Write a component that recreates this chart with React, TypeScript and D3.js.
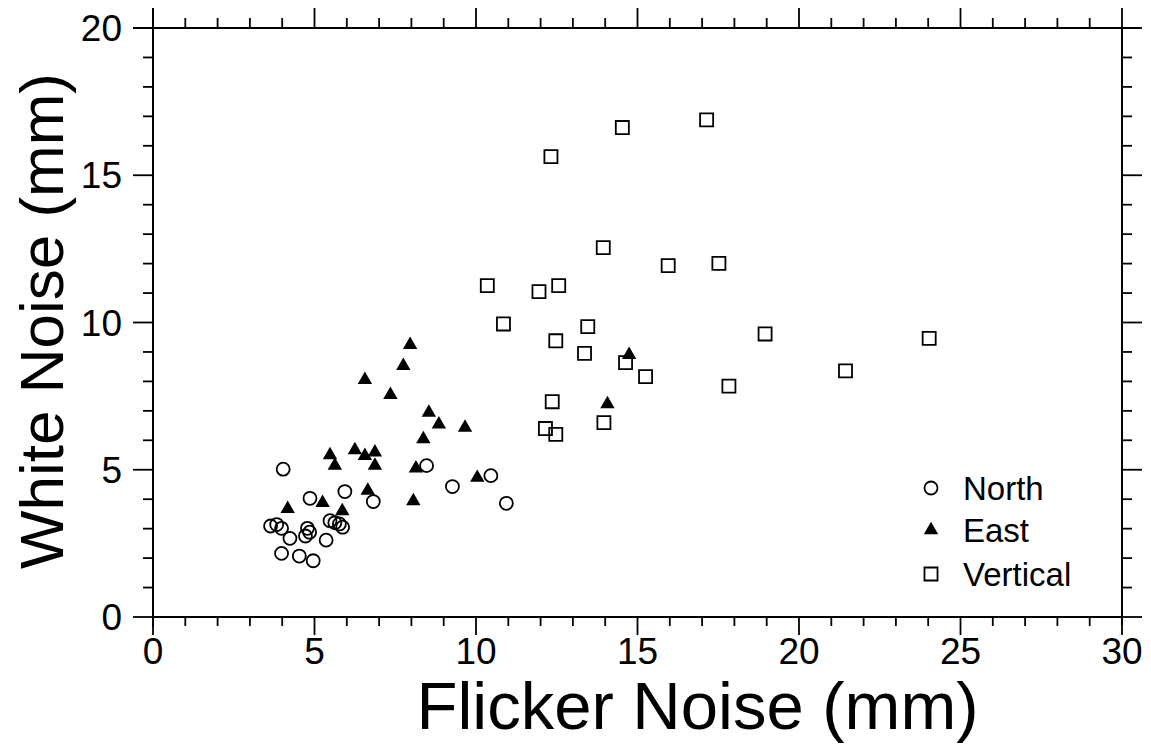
import React from "react";
import * as d3 from "d3";

const northX = [4.03, 4.86, 5.94, 6.82, 3.64, 3.83, 3.98, 4.24, 4.78, 4.85, 4.72, 5.36, 5.48, 5.63, 5.77, 5.87, 3.98, 4.53, 4.96, 8.47, 10.46, 9.27, 10.94];
const northY = [5.02, 4.03, 4.26, 3.92, 3.09, 3.14, 3.01, 2.67, 3.01, 2.88, 2.75, 2.61, 3.27, 3.2, 3.16, 3.05, 2.16, 2.07, 1.91, 5.14, 4.8, 4.43, 3.86];

const eastX = [7.96, 7.75, 6.56, 7.35, 8.54, 8.85, 9.66, 8.37, 5.48, 5.63, 6.25, 6.56, 6.87, 6.87, 8.14, 10.04, 6.65, 8.06, 5.25, 5.86, 4.17, 14.74, 14.07];
const eastY = [9.24, 8.53, 8.05, 7.54, 6.94, 6.54, 6.43, 6.04, 5.5, 5.14, 5.67, 5.47, 5.59, 5.14, 5.05, 4.73, 4.29, 3.94, 3.88, 3.6, 3.67, 8.9, 7.23];

const vertX = [17.14, 14.53, 12.32, 13.94, 15.95, 17.52, 10.35, 11.95, 12.56, 10.85, 13.46, 12.47, 13.36, 14.63, 15.25, 17.83, 12.36, 13.96, 12.15, 12.47, 18.95, 24.03, 21.44];
const vertY = [16.88, 16.62, 15.63, 12.54, 11.93, 12.01, 11.25, 11.05, 11.25, 9.95, 9.86, 9.38, 8.95, 8.64, 8.16, 7.84, 7.31, 6.6, 6.4, 6.2, 9.61, 9.46, 8.36];

const xTickLabels = ["0", "5", "10", "15", "20", "25", "30"];
const yTickLabels = ["0", "5", "10", "15", "20"];
const legendLabels = ["North", "East", "Vertical"];
const xTitle = "Flicker Noise (mm)";
const yTitle = "White Noise (mm)";

const W = 1151;
const H = 751;
const FONT = "'Liberation Sans', Arial, Helvetica, sans-serif";

export default function App() {
  const x = d3.scaleLinear().domain([0, 30]).range([153, 1122]);
  const y = d3.scaleLinear().domain([0, 20]).range([617, 28]);
  const [x0, x1] = x.range();
  const [y0, y1] = y.range();
  const minorX = d3.range(0, 31, 1);
  const minorY = d3.range(0, 21, 1);
  const tri = d3.symbol().type(d3.symbolTriangle).size(90)()!;
  const sq = d3.symbol().type(d3.symbolSquare).size(170)()!;
  const stroke = "#000";

  const north = northX.map((v, i) => [v, northY[i]]);
  const east = eastX.map((v, i) => [v, eastY[i]]);
  const vert = vertX.map((v, i) => [v, vertY[i]]);

  const circle = (cx: number, cy: number, key: string) => (
    <circle key={key} cx={cx} cy={cy} r={6.5} fill="none" stroke={stroke} strokeWidth={1.8} />
  );
  const triangle = (cx: number, cy: number, key: string) => (
    <path key={key} d={tri} transform={`translate(${cx},${cy})`} fill={stroke} />
  );
  const square = (cx: number, cy: number, key: string) => (
    <path key={key} d={sq} transform={`translate(${cx},${cy})`} fill="none" stroke={stroke} strokeWidth={1.8} />
  );

  const legendY = [488, 530, 574];
  const legendMarkers = [circle, triangle, square];

  return (
    <svg width={W} height={H} style={{ position: "absolute", left: 0, top: 0, background: "#fff" }} fontFamily={FONT}>
      <rect x={0} y={0} width={W} height={H} fill="#fff" />
      {/* frame */}
      <g stroke={stroke} strokeWidth={2} fill="none">
        <line x1={x0} x2={x1} y1={y0} y2={y0} />
        <line x1={x0 - 20} x2={x1 + 18} y1={y1} y2={y1} />
        <line x1={x0} x2={x0} y1={y1 - 20} y2={y0 + 10} />
        <line x1={x1} x2={x1} y1={y1} y2={y0 + 8} />
      </g>
      {/* ticks */}
      <g stroke={stroke} strokeWidth={1.8}>
        {minorX.map((v) => {
          const major = v % 5 === 0;
          const len = major ? 18 : 9;
          return (
            <g key={"xt" + v}>
              <line x1={x(v)} x2={x(v)} y1={y0} y2={y0 + len} />
              <line x1={x(v)} x2={x(v)} y1={y1} y2={y1 - (major ? 20 : 10)} />
            </g>
          );
        })}
        {minorY.map((v) => {
          const major = v % 5 === 0;
          const len = major ? 20 : 10;
          return (
            <g key={"yt" + v}>
              <line x1={x0} x2={x0 - len} y1={y(v)} y2={y(v)} />
              <line x1={x1} x2={x1 + len} y1={y(v)} y2={y(v)} />
            </g>
          );
        })}
      </g>
      {/* tick labels */}
      <g fontSize={37} fill={stroke}>
        {xTickLabels.map((t) => (
          <text key={"xl" + t} x={x(+t)} y={664} textAnchor="middle">
            {t}
          </text>
        ))}
        {yTickLabels.map((t) => (
          <text key={"yl" + t} x={122} y={y(+t) + 13} textAnchor="end">
            {t}
          </text>
        ))}
      </g>
      {/* titles */}
      <text x={(x0 + x1) / 2 + 60} y={729} textAnchor="middle" fontSize={67} fill={stroke}>
        {xTitle}
      </text>
      <text
        transform={`translate(63, ${321}) rotate(-90)`}
        textAnchor="middle"
        fontSize={62}
        fill={stroke}
      >
        {yTitle}
      </text>
      {/* data */}
      <g>
        {north.map((d, i) => circle(x(d[0]), y(d[1]), "n" + i))}
        {east.map((d, i) => triangle(x(d[0]), y(d[1]), "e" + i))}
        {vert.map((d, i) => square(x(d[0]), y(d[1]), "v" + i))}
      </g>
      {/* legend */}
      <g>
        {legendLabels.map((l, i) => (
          <g key={"lg" + l}>
            {legendMarkers[i](931, legendY[i], "lm" + i)}
            <text x={963} y={legendY[i] + 12} fontSize={33} fill={stroke}>
              {l}
            </text>
          </g>
        ))}
      </g>
    </svg>
  );
}
